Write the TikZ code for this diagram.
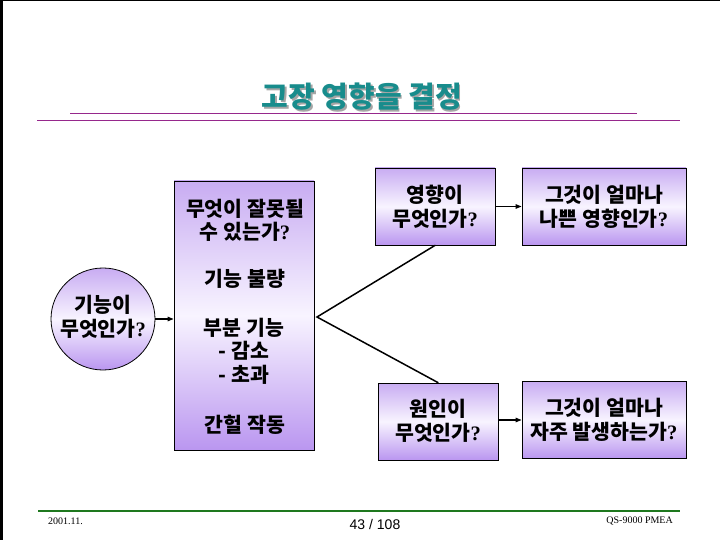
\documentclass[tikz,border=0pt]{standalone}
\usepackage{fontspec}
\setmainfont{Noto Sans CJK KR}
\newfontfamily\footserif{Liberation Serif}
\newfontfamily\footsans{Liberation Sans}
\usetikzlibrary{arrows.meta,shapes.geometric}
\definecolor{lavtop}{RGB}{200,172,242}
\definecolor{lavmid}{RGB}{248,244,255}
\definecolor{lavbot}{RGB}{186,150,240}
\definecolor{titleteal}{RGB}{24,140,140}
\definecolor{linepurple}{RGB}{150,40,140}
\definecolor{footgreen}{RGB}{30,120,30}
\newcommand{\qm}{{\footserif\bfseries ?}}
\tikzset{
  shadedbox/.style={draw=black, line width=0.8pt, top color=lavtop, bottom color=lavbot, middle color=lavmid, inner sep=0pt},
  pbox/.style={shadedbox, rectangle, minimum width=120pt, minimum height=77pt},
  wbox/.style={shadedbox, rectangle, minimum width=164pt, minimum height=77pt},
  boxtext/.style={align=center, font=\fontsize{20.5}{23.5}\selectfont\bfseries, inner sep=0pt},
  arr/.style={-{Triangle[length=6pt,width=4.5pt]}, line width=1.1pt},
  vline/.style={line width=1.5pt, line cap=round},
}
\begin{document}
\begin{tikzpicture}[x=1pt,y=-1pt]
\useasboundingbox (0,0) rectangle (720,540);
\fill[black] (0,0) rectangle (720,1.5);
\fill[black] (0,0) rectangle (2.5,540);
% title
\node[font=\fontsize{29}{32}\selectfont\bfseries, text=black!35] (titlesh) at (363.5,98.5) {고장 영향을 결정};
\node[font=\fontsize{29}{32}\selectfont\bfseries, text=titleteal] (title) at (362,97) {고장 영향을 결정};
\coordinate (l1a) at (70,113);
\coordinate (l1b) at (637,113);
\coordinate (l2a) at (37,120);
\coordinate (l2b) at (680,120);
\draw[linepurple, line width=0.9pt] (l1a) -- (l1b);
\draw[linepurple, line width=0.9pt] (l2a) -- (l2b);
% tall box
\node[shadedbox, rectangle, minimum width=140pt, minimum height=269pt] (fm) at (244,315.5) {};
\node[boxtext] (fm1) at (245,220.5) {무엇이 잘못될\\수 있는가\qm};
\node[boxtext] (fm2) at (245,279) {기능 불량};
\node[boxtext] (fm3) at (244,351) {부분 기능\\- 감소\\- 초과};
\node[boxtext] (fm4) at (245,425) {간헐 작동};
% ellipse
\node[shadedbox, ellipse, minimum width=104pt, minimum height=102pt] (fn) at (103,319) {};
\node[boxtext] (fnt) at (103,317) {기능이\\무엇인가\qm};
\draw[arr] (fn.east) -- (fn.east -| fm.west);
% right boxes
\node[pbox] (eff) at (435,206.5) {};
\node[boxtext] (efft) at (435,207) {영향이\\무엇인가\qm};
\node[wbox] (bad) at (604,206.5) {};
\node[boxtext] (badt) at (604,207) {그것이 얼마나\\나쁜 영향인가\qm};
\node[pbox] (cause) at (438,421.5) {};
\node[boxtext] (causet) at (438,421) {원인이\\무엇인가\qm};
\node[wbox] (freq) at (604,420) {};
\node[boxtext] (freqt) at (604,420) {그것이 얼마나\\자주 발생하는가\qm};
\draw[arr] (eff.east) -- (bad.west);
\draw[arr] (cause.east |- freq.west) -- (freq.west);
% V connector
\coordinate (v) at (317,317);
\draw[vline] (eff.south) -- (v) -- (cause.north);
% footer
\coordinate (fga) at (38,511);
\coordinate (fgb) at (680,511);
\draw[footgreen, line width=2.5pt] (fga) -- (fgb);
\node[font=\footserif\fontsize{10}{12}\selectfont, anchor=west, inner sep=0pt] (date) at (48,521) {2001.11.};
\node[font=\footsans\fontsize{14}{16}\selectfont, inner sep=0pt] (page) at (375,524) {43 / 108};
\node[font=\footserif\fontsize{10}{12}\selectfont, anchor=east, inner sep=0pt] (qs) at (673,521) {QS-9000 PMEA};
\end{tikzpicture}
\end{document}
